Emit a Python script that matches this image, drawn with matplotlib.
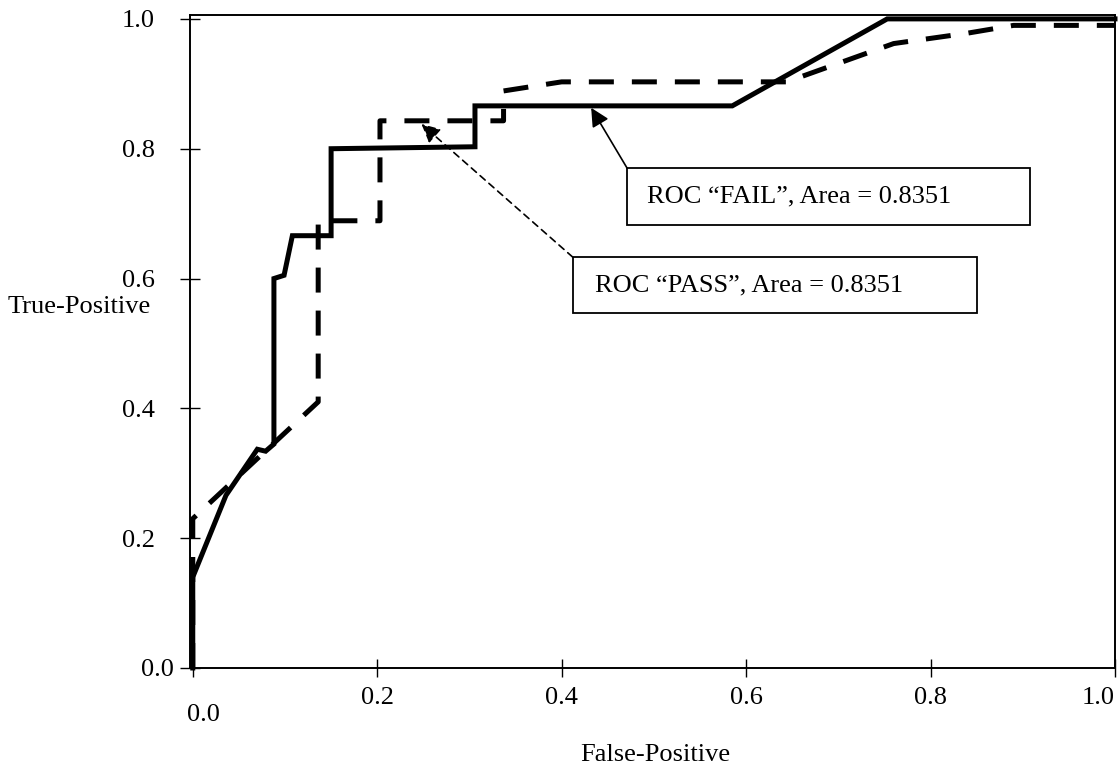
import matplotlib
matplotlib.use("Agg")
import matplotlib.pyplot as plt
from matplotlib.patches import Rectangle
from matplotlib.transforms import ScaledTranslation

plt.rcParams['font.family'] = ['Liberation Serif', 'DejaVu Serif']

# ROC curve for "FAIL" (solid)
fail_fp = [0.0, 0.0, 0.036, 0.070, 0.079, 0.088, 0.088, 0.099, 0.108, 0.150, 0.150,
           0.306, 0.306, 0.585, 0.753, 1.0]
fail_tp = [0.0, 0.140, 0.266, 0.337, 0.334, 0.345, 0.600, 0.605, 0.666, 0.666, 0.800,
           0.803, 0.866, 0.866, 1.0, 1.0]

# ROC curve for "PASS" (dashed)
pass_fp = [0.0, 0.0, 0.136, 0.136, 0.203, 0.203, 0.337, 0.337, 0.400, 0.644, 0.760,
           0.840, 0.890, 1.0]
pass_tp = [0.0, 0.230, 0.410, 0.689, 0.689, 0.843, 0.843, 0.889, 0.903, 0.903, 0.962,
           0.978, 0.990, 0.990]

ticks = [0.0, 0.2, 0.4, 0.6, 0.8, 1.0]
tick_labels = ["0.0", "0.2", "0.4", "0.6", "0.8", "1.0"]

fail_label = "ROC \u201cFAIL\u201d, Area = 0.8351"
pass_label = "ROC \u201cPASS\u201d, Area = 0.8351"

fig = plt.figure(figsize=(11.2, 7.65), dpi=100)
ax = fig.add_axes([190 / 1120, 97 / 765, 925 / 1120, 653 / 765])

ax.plot(fail_fp, fail_tp, color="black", lw=3.6, solid_joinstyle="miter", clip_on=False, zorder=3)
ax.plot(pass_fp, pass_tp, color="black", lw=3.6, dashes=(5, 3.6), dash_capstyle="butt",
        clip_on=False, zorder=3)

ax.set_xlim(-0.003, 1.0)
ax.set_ylim(0.0, 1.006)
ax.set_xticks(ticks)
ax.set_xticklabels(tick_labels)
ax.set_yticks(ticks)
ax.set_yticklabels(tick_labels)
ax.tick_params(axis="x", direction="inout", length=13, width=1, pad=7, labelsize=19)
ax.tick_params(axis="y", direction="inout", length=15, width=1, pad=18, labelsize=19)
for s in ax.spines.values():
    s.set_linewidth(1.4)

# odd label offsets as in the original
xl = ax.get_xticklabels()
xl[0].set_transform(xl[0].get_transform() + ScaledTranslation(0.11, -0.17, fig.dpi_scale_trans))
xl[-1].set_transform(xl[-1].get_transform() + ScaledTranslation(-0.17, 0, fig.dpi_scale_trans))
yl = ax.get_yticklabels()
yl[0].set_transform(yl[0].get_transform() + ScaledTranslation(0.19, 0, fig.dpi_scale_trans))

fig.text(655 / 1120, 1 - 755 / 765, "False-Positive", ha="center", va="center", fontsize=19)
fig.text(8 / 1120, 1 - 307 / 765, "True-Positive", ha="left", va="center", fontsize=19)

# annotation boxes
ax.add_patch(Rectangle((0.471, 0.683), 0.437, 0.087, fill=False, lw=1.3, ec="black", zorder=4))
ax.text(0.493, 0.726, fail_label, fontsize=19, va="center", ha="left", zorder=5)
ax.add_patch(Rectangle((0.412, 0.547), 0.438, 0.086, fill=False, lw=1.3, ec="black", zorder=4))
ax.text(0.436, 0.590, pass_label, fontsize=19, va="center", ha="left", zorder=5)

ax.annotate("", xy=(0.432, 0.863), xytext=(0.471, 0.770),
            arrowprops=dict(arrowstyle="-|>", color="black", lw=1.2, mutation_scale=28,
                            shrinkA=0, shrinkB=0), zorder=5)
ax.annotate("", xy=(0.248, 0.838), xytext=(0.412, 0.633),
            arrowprops=dict(arrowstyle="-|>", color="black", lw=1.2, ls=(0, (4, 3)),
                            mutation_scale=28, shrinkA=0, shrinkB=0), zorder=5)

fig.savefig("out.png", dpi=100)
